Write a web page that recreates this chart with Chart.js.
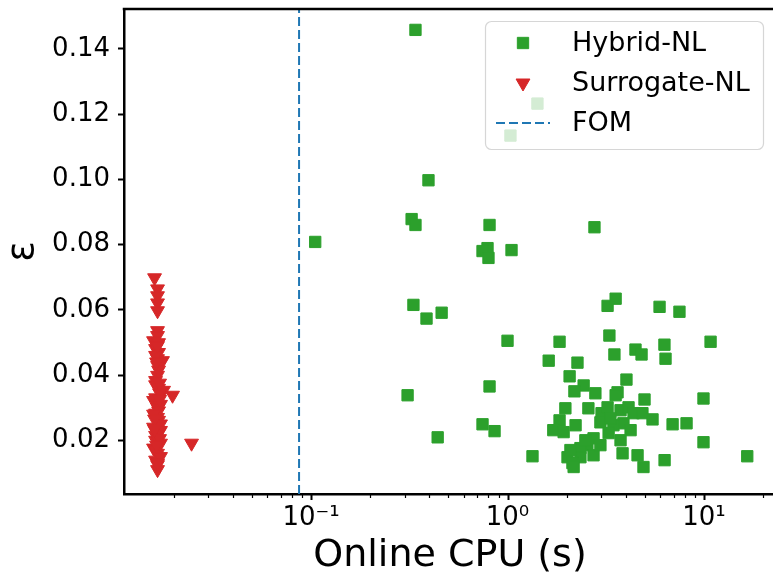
<!DOCTYPE html>
<html>
<head>
<meta charset="utf-8">
<script src="https://cdn.jsdelivr.net/npm/chart.js@4"></script>
<style>
  html, body { margin: 0; padding: 0; background: #fff; overflow: hidden; }
  canvas { display: block; }
</style>
</head>
<body>
<canvas id="grafico" width="800" height="584"></canvas>
<script>
// tempo de CPU online (s) e erro relativo de cada amostra
const hybridCpu = [0.340, 1.42, 1.035, 0.396, 0.325, 0.340, 0.810, 0.105, 0.791, 0.746,
  0.800, 1.048, 2.77, 0.332, 0.387, 0.462, 3.23, 3.55, 5.94, 7.50,
  1.00, 1.84, 3.30, 6.29, 10.8, 1.62, 2.27, 3.50, 4.48, 4.81,
  6.37, 2.07, 4.03, 0.81, 0.310, 2.44, 2.80, 2.19, 3.63, 3.55,
  4.98, 9.94, 1.97, 2.58, 1.84, 1.71, 2.22, 1.93, 3.01, 3.23,
  2.97, 3.76, 4.13, 4.38, 4.86, 5.47, 3.89, 4.23, 3.46, 3.27,
  6.92, 8.15, 9.94, 2.74, 2.55, 2.35, 2.74, 2.35, 2.02, 2.14,
  2.17, 3.76, 3.85, 4.59, 4.92, 6.30, 16.6, 1.34, 0.441, 0.746,
  0.859, 3.34, 2.49, 2.09, 2.97];
const hybridErr = [0.1458, 0.1232, 0.1134, 0.0997, 0.0878, 0.0860, 0.0860, 0.0808, 0.0789, 0.0780,
  0.0759, 0.0783, 0.0853, 0.0615, 0.0573, 0.0591, 0.0612, 0.0634, 0.0609, 0.0594,
  0.0505, 0.0502, 0.0521, 0.0493, 0.0502, 0.0444, 0.0438, 0.0463, 0.0478, 0.0463,
  0.0450, 0.0396, 0.0386, 0.0365, 0.0338, 0.0368, 0.0344, 0.0350, 0.0347, 0.0338,
  0.0325, 0.0328, 0.0298, 0.0298, 0.0261, 0.0231, 0.0246, 0.0225, 0.0283, 0.0301,
  0.0255, 0.0292, 0.0301, 0.0283, 0.0283, 0.0264, 0.0252, 0.0231, 0.0246, 0.0222,
  0.0249, 0.0252, 0.0194, 0.0206, 0.0185, 0.0176, 0.0154, 0.0148, 0.0148, 0.0130,
  0.0118, 0.0200, 0.0160, 0.0154, 0.0118, 0.0139, 0.0151, 0.0151, 0.0209, 0.0249,
  0.0228, 0.0267, 0.0200, 0.0170, 0.0185];

const surrogateCpu = [0.01598, 0.01655, 0.01655, 0.01655, 0.01655, 0.01655, 0.01655, 0.01579, 0.01675, 0.01617,
  0.01675, 0.01655, 0.01754, 0.01655, 0.01655, 0.01617, 0.01675, 0.01776, 0.01973, 0.01579,
  0.01655, 0.01617, 0.01675, 0.01579, 0.01675, 0.01617, 0.01714, 0.01579, 0.01655, 0.01617,
  0.01655, 0.01655, 0.02465, 0.01617, 0.01655, 0.01714, 0.01617, 0.01675, 0.01617, 0.01675,
  0.01617, 0.01714, 0.01617, 0.01655, 0.01714, 0.01579, 0.01714, 0.01655, 0.01695, 0.01598,
  0.01695, 0.01636, 0.01695, 0.01636, 0.01695, 0.01598];
const surrogateErr = [0.0698, 0.0664, 0.0643, 0.0621, 0.0597, 0.0536, 0.0521, 0.0505, 0.0499, 0.0481,
  0.0469, 0.0450, 0.0444, 0.0429, 0.0399, 0.0383, 0.0359, 0.0353, 0.0338, 0.0322,
  0.0301, 0.0283, 0.0261, 0.0240, 0.0222, 0.0200, 0.0191, 0.0176, 0.0160, 0.0139,
  0.0125, 0.0110, 0.0191, 0.0330, 0.0270, 0.0250, 0.0215, 0.0290, 0.0370, 0.0415,
  0.0170, 0.0150, 0.0460, 0.0490, 0.0310, 0.0280, 0.0230, 0.0130, 0.0345, 0.0265,
  0.0205, 0.0185, 0.0325, 0.0440, 0.0375, 0.0233];

const fomCpu = 0.0869;

const xRange = [0.01117, 23.25];
const yRange = [0.00353, 0.1522];
const yTicks = [0.02, 0.04, 0.06, 0.08, 0.10, 0.12, 0.14];

const fonte = 'DejaVu Sans';
const sup = { '-': '⁻', '0': '⁰', '1': '¹', '2': '²', '3': '³' };

function pontos(xs, ys) {
  return xs.map((x, i) => ({ x: x, y: ys[i] }));
}

function potenciaDeDez(v) {
  const e = Math.round(Math.log10(v));
  return Math.abs(v - Math.pow(10, e)) / v < 1e-9 ? e : null;
}

// contorno superior, marcas do eixo x e legenda
const extras = {
  id: 'extras',
  afterDraw(chart) {
    const ctx = chart.ctx;
    const area = chart.chartArea;
    ctx.save();

    ctx.strokeStyle = '#000';
    ctx.lineWidth = 2.5;
    ctx.beginPath();
    ctx.moveTo(area.left - 1.25, area.top);
    ctx.lineTo(area.right + 1.25, area.top);
    ctx.stroke();

    const sx = chart.scales.x;
    sx.ticks.forEach(t => {
      const px = Math.round(sx.getPixelForValue(t.value)) + 0.5;
      const major = potenciaDeDez(t.value) !== null;
      ctx.lineWidth = major ? 2 : 1.2;
      ctx.beginPath();
      ctx.moveTo(px, area.bottom);
      ctx.lineTo(px, area.bottom + (major ? 6 : 4));
      ctx.stroke();
    });

    const x0 = 485.5, y0 = 21.5, w = 278, h = 128;
    ctx.beginPath();
    ctx.roundRect(x0, y0, w, h, 6);
    ctx.fillStyle = 'rgba(255,255,255,0.8)';
    ctx.fill();
    ctx.strokeStyle = 'rgba(204,204,204,0.8)';
    ctx.lineWidth = 1.2;
    ctx.stroke();

    ctx.font = '27px "' + fonte + '"';
    ctx.textBaseline = 'middle';
    ctx.textAlign = 'left';
    chart.data.datasets.forEach((ds, i) => {
      const cy = 43 + i * 40;
      if (ds.type === 'line') {
        ctx.strokeStyle = ds.borderColor;
        ctx.lineWidth = ds.borderWidth;
        ctx.setLineDash(ds.borderDash);
        ctx.beginPath();
        ctx.moveTo(496, cy);
        ctx.lineTo(550, cy);
        ctx.stroke();
        ctx.setLineDash([]);
      } else {
        ctx.fillStyle = ds.backgroundColor;
        ctx.strokeStyle = ds.borderColor;
        ctx.lineWidth = ds.borderWidth;
        Chart.helpers.drawPoint(ctx, {
          pointStyle: ds.pointStyle, rotation: ds.rotation,
          radius: ds.pointRadius, borderWidth: ds.borderWidth
        }, 523, cy);
      }
      ctx.fillStyle = '#000';
      ctx.fillText(ds.label, 572, cy + 1);
    });
    ctx.restore();
  }
};

new Chart(document.getElementById('grafico'), {
  type: 'scatter',
  data: {
    datasets: [
      {
        label: 'Hybrid-NL',
        data: pontos(hybridCpu, hybridErr),
        pointStyle: 'rect',
        pointRadius: 8,
        rotation: 0,
        backgroundColor: '#2ca02c',
        borderColor: '#2ca02c',
        borderWidth: 1
      },
      {
        label: 'Surrogate-NL',
        data: pontos(surrogateCpu, surrogateErr),
        pointStyle: 'triangle',
        rotation: 180,
        pointRadius: 8,
        backgroundColor: '#d62728',
        borderColor: '#d62728',
        borderWidth: 1
      },
      {
        label: 'FOM',
        type: 'line',
        data: [{ x: fomCpu, y: yRange[0] }, { x: fomCpu, y: yRange[1] }],
        borderColor: '#1f77b4',
        borderWidth: 2,
        borderDash: [9, 4],
        pointRadius: 0,
        fill: false
      }
    ]
  },
  options: {
    responsive: false,
    animation: false,
    devicePixelRatio: 1,
    layout: { padding: { top: 7, right: 24, left: 0, bottom: 0 } },
    plugins: { legend: { display: false }, tooltip: { enabled: false } },
    scales: {
      x: {
        type: 'logarithmic',
        min: xRange[0],
        max: xRange[1],
        afterBuildTicks: (scale) => {
          const ticks = [];
          for (let e = -2; e <= 1; e++) {
            for (let m = 1; m <= 9; m++) {
              const v = m * Math.pow(10, e);
              if (v >= xRange[0] && v <= xRange[1]) ticks.push({ value: v });
            }
          }
          scale.ticks = ticks;
        },
        afterFit: (scale) => {
          scale.height = 90;
          scale.paddingLeft = 0;
          scale.paddingRight = 0;
        },
        grid: { display: false, drawTicks: true, tickLength: 6 },
        border: { display: true, color: '#000', width: 2.5 },
        ticks: {
          autoSkip: false,
          maxRotation: 0,
          padding: 3,
          color: '#000',
          font: { family: fonte, size: 26 },
          callback: (v) => {
            const e = potenciaDeDez(v);
            if (e === null) return '';
            return '10' + String(e).split('').map(c => sup[c]).join('');
          }
        },
        title: {
          display: true,
          text: 'Online CPU (s)',
          color: '#000',
          font: { family: fonte, size: 38 },
          padding: { top: 0, bottom: 5 }
        }
      },
      y: {
        type: 'linear',
        min: yRange[0],
        max: yRange[1],
        afterBuildTicks: (scale) => {
          scale.ticks = yTicks.map(v => ({ value: v }));
        },
        afterFit: (scale) => {
          scale.width = 124;
          scale.paddingTop = 0;
          scale.paddingBottom = 0;
        },
        grid: { drawOnChartArea: false, drawTicks: true, tickLength: 6, tickColor: '#000', tickWidth: 2 },
        border: { display: true, color: '#000', width: 2.5 },
        ticks: {
          padding: 8,
          color: '#000',
          font: { family: fonte, size: 26 },
          callback: (v) => v.toFixed(2)
        },
        title: {
          display: true,
          text: 'ε',
          color: '#000',
          font: { family: fonte, size: 38, lineHeight: 1 },
          padding: { top: 4, bottom: 0 }
        }
      }
    }
  },
  plugins: [extras]
});
</script>
</body>
</html>
